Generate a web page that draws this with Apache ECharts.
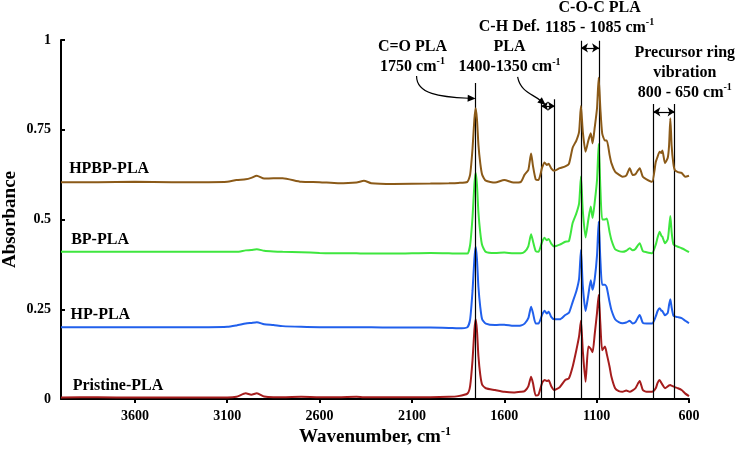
<!DOCTYPE html>
<html><head><meta charset="utf-8">
<script src="https://cdn.jsdelivr.net/npm/echarts@6/dist/echarts.min.js"></script>
<style>html,body{margin:0;padding:0;background:#fff}#c{width:738px;height:450px}</style>
</head><body><div id="c"></div>
<script>
// ---------- DATA ----------
const wavenumber = [4000,3800,3600,3400,3200,3100,3050,3000,2970,2940,
 2900,2850,2800,2700,2600,2500,2400,2360,2320,2200,
 2000,1900,1850,1800,1785,1772,1762,1755,1748,1740,
 1730,1720,1700,1650,1600,1550,1510,1490,1470,1455,
 1445,1430,1415,1395,1382,1370,1360,1345,1330,1300,
 1270,1250,1230,1210,1195,1185,1175,1160,1145,1132,
 1122,1110,1098,1089,1080,1070,1055,1045,1030,1020,
 1000,980,960,940,921,905,890,867,850,830,
 800,780,770,759,750,744,730,715,708,701,
 694,685,677,660,640,620,600];

const hpbpPLA = [0.604,0.604,0.605,0.604,0.604,0.605,0.610,0.612,0.616,0.622,
 0.614,0.615,0.615,0.605,0.604,0.601,0.603,0.608,0.601,0.599,
 0.600,0.601,0.602,0.605,0.625,0.697,0.779,0.810,0.779,0.708,
 0.656,0.625,0.608,0.603,0.610,0.603,0.605,0.625,0.638,0.684,
 0.650,0.612,0.610,0.645,0.659,0.652,0.655,0.642,0.636,0.643,
 0.648,0.655,0.700,0.720,0.745,0.816,0.745,0.689,0.720,0.740,
 0.712,0.758,0.810,0.895,0.810,0.740,0.720,0.720,0.680,0.657,
 0.633,0.625,0.619,0.622,0.643,0.624,0.626,0.643,0.619,0.612,
 0.605,0.660,0.675,0.689,0.685,0.692,0.657,0.672,0.705,0.782,
 0.705,0.657,0.638,0.632,0.630,0.619,0.622];

const bpPLA = [0.410,0.410,0.410,0.410,0.410,0.410,0.410,0.414,0.415,0.417,
 0.413,0.411,0.410,0.409,0.407,0.406,0.406,0.405,0.405,0.405,
 0.407,0.406,0.405,0.405,0.429,0.507,0.597,0.630,0.597,0.519,
 0.463,0.429,0.410,0.407,0.408,0.406,0.406,0.410,0.425,0.459,
 0.440,0.412,0.410,0.438,0.449,0.442,0.446,0.432,0.425,0.430,
 0.438,0.440,0.490,0.517,0.545,0.620,0.525,0.450,0.500,0.536,
 0.504,0.550,0.610,0.710,0.590,0.500,0.500,0.503,0.465,0.443,
 0.417,0.412,0.410,0.413,0.420,0.414,0.418,0.434,0.412,0.409,
 0.406,0.430,0.450,0.466,0.455,0.452,0.434,0.445,0.475,0.510,
 0.465,0.432,0.428,0.424,0.420,0.415,0.409];

const hpPLA = [0.200,0.200,0.200,0.200,0.200,0.201,0.205,0.210,0.212,0.214,
 0.208,0.206,0.203,0.201,0.200,0.200,0.200,0.200,0.200,0.199,
 0.199,0.198,0.197,0.200,0.222,0.301,0.390,0.424,0.390,0.312,
 0.256,0.222,0.210,0.206,0.207,0.204,0.205,0.210,0.225,0.257,
 0.240,0.210,0.210,0.235,0.246,0.238,0.243,0.228,0.222,0.222,
 0.234,0.240,0.270,0.300,0.335,0.415,0.315,0.245,0.290,0.331,
 0.304,0.336,0.400,0.494,0.390,0.318,0.318,0.310,0.270,0.248,
 0.222,0.214,0.211,0.213,0.218,0.210,0.214,0.234,0.212,0.210,
 0.210,0.230,0.245,0.253,0.246,0.245,0.233,0.240,0.262,0.278,
 0.255,0.233,0.230,0.228,0.225,0.218,0.211];

const pristinePLA = [0.004,0.005,0.004,0.004,0.004,0.004,0.006,0.016,0.012,0.016,
 0.007,0.005,0.005,0.006,0.005,0.005,0.006,0.005,0.005,0.005,
 0.005,0.006,0.008,0.015,0.036,0.108,0.191,0.222,0.191,0.119,
 0.067,0.040,0.030,0.025,0.020,0.018,0.020,0.022,0.035,0.062,
 0.045,0.010,0.012,0.045,0.053,0.050,0.052,0.035,0.025,0.033,
 0.053,0.058,0.090,0.136,0.175,0.218,0.135,0.048,0.146,0.140,
 0.130,0.183,0.240,0.290,0.210,0.136,0.146,0.125,0.090,0.062,
 0.030,0.022,0.020,0.024,0.020,0.024,0.030,0.050,0.025,0.020,
 0.020,0.030,0.045,0.053,0.045,0.040,0.030,0.035,0.038,0.039,
 0.037,0.035,0.033,0.030,0.025,0.015,0.008];

const seriesNames = ['Pristine-PLA','HP-PLA','BP-PLA','HPBP-PLA'];
const seriesColors = ['#a51d1d','#2160ec','#3ee63e','#8b5a18'];
const xTitle = 'Wavenumber, cm';
const yTitle = 'Absorbance';

// band marker lines (wavenumber) and their top (absorbance)
const bandLines = [1755, 1400, 1327, 1185, 1087, 793, 678];
const bandTops  = [0.88, 0.835, 0.835, 0.998, 0.998, 0.822, 0.822];
const bandArrows = [[1185,1087,0.978],[1400,1327,0.816],[793,678,0.80]];

// ---------- CHART ----------
const FONT = '"Liberation Serif","Times New Roman",serif';
const chart = echarts.init(document.getElementById('c'), null, {renderer:'canvas'});
const pairs = arr => wavenumber.map((w,i)=>[w, arr[i]]);
const allValues = [pristinePLA, hpPLA, bpPLA, hpbpPLA];

const markData = bandLines.map((w,i)=>[
  {coord:[w,0], symbol:'none'}, {coord:[w,bandTops[i]], symbol:'none'}
]).concat(bandArrows.map(a=>[
  {coord:[a[0],a[2]], symbol:'arrow', symbolSize:7}, {coord:[a[1],a[2]], symbol:'arrow', symbolSize:7}
]));

const series = allValues.map((vals,i)=>({
  name: seriesNames[i], type:'line', data: pairs(vals), showSymbol:false, smooth:0.2,
  lineStyle:{color:seriesColors[i], width:2}, itemStyle:{color:seriesColors[i]},
  silent:true, z: 2+i
}));
series.push({
  type:'line', data:[], silent:true, z:10,
  markLine:{silent:true, animation:false, label:{show:false}, emphasis:{disabled:true},
    lineStyle:{color:'#000', width:1.2, type:'solid'}, data: markData}
});

chart.setOption({
  animation:false,
  grid:{left:61, right:49, top:40, bottom:51, containLabel:false, outerBoundsMode:'none'},
  xAxis:{type:'value', min:600, max:4000, interval:500, inverse:true,
    axisLine:{lineStyle:{color:'#000', width:2}},
    axisTick:{length:4, lineStyle:{color:'#000', width:2}},
    axisLabel:{color:'#000', fontFamily:FONT, fontWeight:'bold', fontSize:14, margin:10, showMaxLabel:false,
      formatter: v => String(v)},
    splitLine:{show:false}
  },
  yAxis:{type:'value', min:0, max:1, interval:0.25,
    axisLine:{show:true, lineStyle:{color:'#000', width:2}},
    axisTick:{show:true, inside:true, length:4, lineStyle:{color:'#000', width:2}},
    axisLabel:{color:'#000', fontFamily:FONT, fontWeight:'bold', fontSize:14, margin:10},
    splitLine:{show:false}
  },
  series: series
});

// ---------- ANNOTATIONS (placed through the axes) ----------
const px = (w,v)=>chart.convertToPixel({gridIndex:0},[w,v]);
const seriesLabelPos = [[3937,0.036],[3948,0.234],[3945,0.443],[3956,0.641]];
const annotations = [
  {w:2097, v:0.953, text:'{t|C=O PLA}\n{t|1750 cm}{s|-1}'},
  {w:1572, v:0.980, text:'{t|C-H Def.}\n{t|PLA}\n{t|1400-1350 cm}{s|-1}'},
  {w:1084, v:1.063, text:'{t|C-O-C PLA}\n{t|1185 - 1085 cm}{s|-1}'},
  {w:623,  v:0.9095, text:'{t|Precursor ring}\n{t|vibration}\n{t|800 - 650 cm}{s|-1}'}
];
const curves = [
  [[2075,0.900],[2075,0.850],[1950,0.841],[1755,0.837]],
  [[1528,0.897],[1512,0.855],[1447,0.850],[1376,0.819]]
];

const graphics = [];
// axis titles
const xMid = px(2300, 0), yMid = px(4000, 0.5);
graphics.push({type:'text', x:xMid[0], y:xMid[1]+38, silent:true, z:20,
  style:{text:'{t|'+xTitle+'}{s|-1}', align:'center', verticalAlign:'middle',
    rich:{t:{fontFamily:FONT, fontWeight:'bold', fontSize:19, lineHeight:22, fill:'#000'},
          s:{fontFamily:FONT, fontWeight:'bold', fontSize:12, lineHeight:14, verticalAlign:'top', fill:'#000'}}}});
graphics.push({type:'text', x:yMid[0]-51, y:yMid[1], rotation:Math.PI/2, silent:true, z:20,
  style:{text:yTitle, fill:'#000', fontFamily:FONT, fontWeight:'bold', fontSize:19, align:'center', verticalAlign:'middle'}});

seriesNames.forEach((n,i)=>{
  const p = px(seriesLabelPos[i][0], seriesLabelPos[i][1]);
  graphics.push({type:'text', x:p[0], y:p[1], silent:true, z:20,
    style:{text:n, fill:'#000', fontFamily:FONT, fontWeight:'bold', fontSize:16, align:'left', verticalAlign:'middle'}});
});
annotations.forEach(a=>{
  const p = px(a.w, a.v);
  graphics.push({type:'text', x:p[0], y:p[1], silent:true, z:20,
    style:{text:a.text, fill:'#000', fontFamily:FONT, fontWeight:'bold', fontSize:16, lineHeight:20,
      align:'center', verticalAlign:'middle',
      rich:{t:{fontFamily:FONT, fontWeight:'bold', fontSize:16, lineHeight:20, fill:'#000'},
            s:{fontFamily:FONT, fontWeight:'bold', fontSize:10, lineHeight:13, verticalAlign:'top', fill:'#000'}}}});
});
curves.forEach(c=>{
  const P = c.map(q=>px(q[0],q[1]));
  const tip = P[3], c2 = P[2];
  let dx = tip[0]-c2[0], dy = tip[1]-c2[1]; const L = Math.hypot(dx,dy); dx/=L; dy/=L;
  const hl = 8, hw = 3.5;
  const base = [tip[0]-dx*hl, tip[1]-dy*hl];
  const end = [tip[0]-dx*(hl-1), tip[1]-dy*(hl-1)];
  graphics.push({type:'bezierCurve', silent:true, z:20,
    shape:{x1:P[0][0],y1:P[0][1],cpx1:P[1][0],cpy1:P[1][1],cpx2:P[2][0],cpy2:P[2][1],x2:end[0],y2:end[1]},
    style:{stroke:'#000', lineWidth:1.2, fill:null}});
  graphics.push({type:'polygon', silent:true, z:20,
    shape:{points:[tip,[base[0]-dy*hw, base[1]+dx*hw],[base[0]+dy*hw, base[1]-dx*hw]]},
    style:{fill:'#000'}});
});
chart.setOption({graphic: graphics});
</script></body></html>
